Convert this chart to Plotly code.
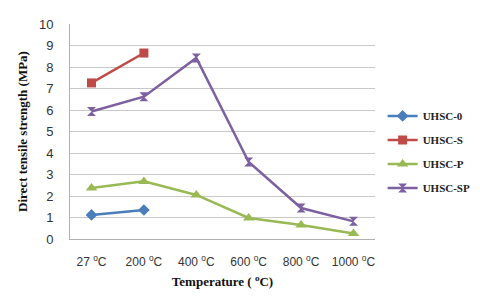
import plotly.graph_objects as go

categories = ["27 °C", "200 °C", "400 °C", "600 °C", "800 °C", "1000 °C"]
tick_labels = ["27 <sup>o</sup>C", "200 <sup>o</sup>C", "400 <sup>o</sup>C",
               "600 <sup>o</sup>C", "800 <sup>o</sup>C", "1000 <sup>o</sup>C"]

uhsc_0 = [1.12, 1.35]
uhsc_s = [7.26, 8.65]
uhsc_p = [2.37, 2.68, 2.05, 0.98, 0.65, 0.26]
uhsc_sp = [5.93, 6.62, 8.42, 3.58, 1.44, 0.82]

fig = go.Figure()
series = [
    ("UHSC-0", uhsc_0, "#4a7ebb", "diamond", 9),
    ("UHSC-S", uhsc_s, "#be4b48", "square", 9),
    ("UHSC-P", uhsc_p, "#98b954", "triangle-up", 10),
    ("UHSC-SP", uhsc_sp, "#7d60a0", "hourglass", 9),
]
for name, vals, color, sym, size in series:
    fig.add_trace(go.Scatter(
        x=categories[:len(vals)], y=vals, name=name, mode="lines+markers",
        legendgroup=name,
        line=dict(color=color, width=2.5),
        marker=dict(symbol=sym, size=size, color=color),
    ))

fig.update_layout(
    width=480, height=302,
    margin=dict(l=62, r=113, t=16, b=71, autoexpand=False),
    paper_bgcolor="white", plot_bgcolor="white",
    showlegend=True,
    legend=dict(x=1.025, y=0.405, xanchor="left", yanchor="middle",
                font=dict(family="Liberation Serif", size=11, color="#222222", weight="bold"),
                tracegroupgap=5, itemwidth=30),
    xaxis=dict(type="category", categoryorder="array", categoryarray=categories,
               tickvals=categories, ticktext=tick_labels, automargin=False,
               showgrid=False, showline=True, linecolor="#b0b0b0", linewidth=1,
               ticks="", ticklabelstandoff=12,
               tickfont=dict(family="Liberation Sans", size=12, color="#333333"),
               title=dict(text="<b>Temperature ( <sup>o</sup>C)</b>",
                          font=dict(family="Liberation Serif", size=13, color="#111111"),
                          standoff=8)),
    yaxis=dict(range=[0, 10], dtick=1, showgrid=True, gridcolor="#c8c8c8", gridwidth=1,
               showline=True, linecolor="#b0b0b0", linewidth=1, zeroline=False,
               automargin=False, ticklabelstandoff=13,
               ticks="", tickfont=dict(family="Liberation Sans", size=13, color="#333333"),
               title=dict(text="<b>Direct tensile strength (MPa)</b>",
                          font=dict(family="Liberation Serif", size=13, color="#111111"),
                          standoff=8)),
)

fig.write_html("out.html")
